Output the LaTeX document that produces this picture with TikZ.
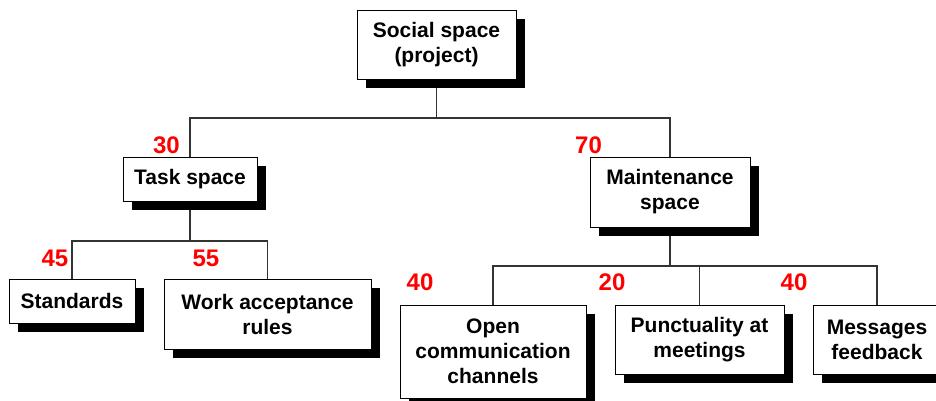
\documentclass[tikz,border=0pt]{standalone}
\usepackage{fontspec}
\setmainfont{Liberation Sans}
\usetikzlibrary{shadows}

\begin{document}
\begin{tikzpicture}[x=1pt, y=-1pt, line width=1pt,
    box/.style={draw=black, fill=white, line width=0.9pt, inner sep=0pt, align=center,
      font=\fontsize{21}{25}\selectfont\bfseries,
      drop shadow={shadow xshift=9pt, shadow yshift=-9pt, fill=black, opacity=1}},
    share/.style={text=red, inner sep=0pt, font=\fontsize{24}{28}\selectfont\bfseries},
    link/.style={draw=black!80, line width=1.1pt}]
    \useasboundingbox (0,0) rectangle (936,401);
    \fill[white] (0,0) rectangle (936,401);
    \coordinate (busA) at (0,118);
    \coordinate (busB) at (0,241);
    \coordinate (busC) at (0,266);
    \draw[link] (436.5,79) -- (436.5,118) coordinate (rootdrop);
    \draw[link] (rootdrop) -| (190,157);
    \draw[link] (rootdrop) -| (670,157);
    \draw[link] (190,201) -- (190,241) coordinate (taskdrop);
    \draw[link] (taskdrop) -| (72,279);
    \draw[link] (taskdrop) -| (267.5,279);
    \draw[link] (670,227) -- (670,266) coordinate (maintdrop);
    \draw[link] (maintdrop) -| (493,305);
    \draw[link] (maintdrop) -| (699.5,305);
    \draw[link] (maintdrop) -| (877,305);
    \node[box, minimum width=159pt, minimum height=69pt] (root) at (436.5,44.5) {Social space\\(project)};
    \node[box, minimum width=134pt, minimum height=44pt] (task) at (190,179) {Task space};
    \node[box, minimum width=160pt, minimum height=70pt] (maint) at (670,192) {Maintenance\\space};
    \node[box, minimum width=126pt, minimum height=44pt] (stand) at (72,301) {Standards};
    \node[box, minimum width=207pt, minimum height=70pt] (work) at (267.5,314) {Work acceptance\\rules};
    \node[box, minimum width=186pt, minimum height=93pt] (open) at (493,351.5) {Open\\communication\\channels};
    \node[box, minimum width=169pt, minimum height=69pt] (punct) at (699.5,339.5) {Punctuality at\\meetings};
    \node[box, minimum width=128pt, minimum height=69pt] (msg) at (877,339.5) {Messages\\feedback};
    \node[share] (wtask) at (166.5,145) {30};
    \node[share] (wmaint) at (588.5,145) {70};
    \node[share] (wstand) at (55,258) {45};
    \node[share] (wwork) at (206,258) {55};
    \node[share] (wopen) at (420,282) {40};
    \node[share] (wpunct) at (612,282) {20};
    \node[share] (wmsg) at (794,282) {40};
\end{tikzpicture}
\end{document}
